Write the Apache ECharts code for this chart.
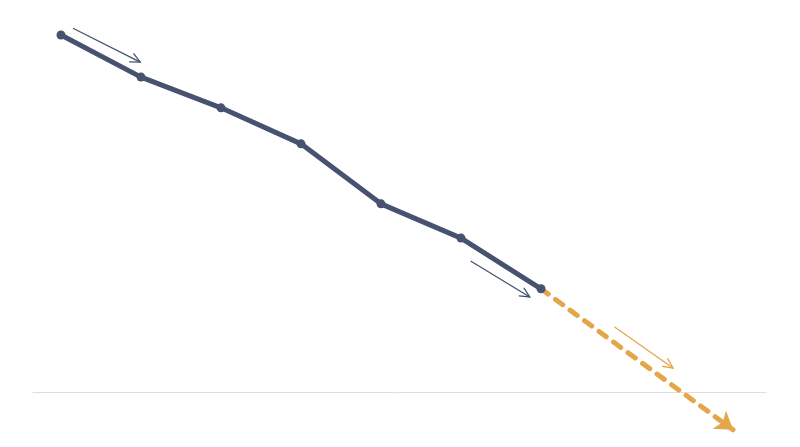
<!DOCTYPE html>
<html><head><meta charset="utf-8">
<script src="https://cdn.jsdelivr.net/npm/echarts@6/dist/echarts.min.js"></script>
<style>html,body{margin:0;padding:0;background:#fff}#c{width:800px;height:447px}</style>
</head><body><div id="c"></div>
<script>
// observed series (x index, value)
const xValues = [0, 1, 2, 3, 4, 5, 6];
const actualValues = [100, 88.2, 79.6, 69.5, 52.7, 43.1, 28.9];
// projected continuation: from last actual point to the arrow tip
const projX = [6, 8.4];
const projValues = [28.9, -10.6];
// annotation arrows [x1, y1, x2, y2, colorKey]
const annoArrows = [
  [0.15, 101.9, 0.99, 92.4, 'navy'],
  [5.12, 36.7, 5.86, 26.6, 'navy'],
  [6.92, 18.2, 7.65, 6.7, 'orange']
];
const NAVY = '#46526F', ORANGE = '#E3A74A';

const chart = echarts.init(document.getElementById('c'));
chart.setOption({
  animation: false,
  grid: {left: 33, right: 34, top: 35, bottom: 12.2},
  xAxis: {type: 'value', min: -0.35, max: 8.8125, axisLine: {show: true, onZero: true, lineStyle: {color: '#dedede', width: 1}},
          axisTick: {show: false}, axisLabel: {show: false}, splitLine: {show: false}},
  yAxis: {type: 'value', min: -12, max: 100, axisLine: {show: false}, axisTick: {show: false},
          axisLabel: {show: false}, splitLine: {show: false}},
  series: [
    {
      type: 'lines', coordinateSystem: 'cartesian2d', z: 2,
      symbol: ['none', 'arrow'], symbolSize: 17,
      lineStyle: {color: ORANGE, width: 5, type: [9, 9], cap: 'round', opacity: 1},
      data: [{coords: [[projX[0], projValues[0]], [projX[1], projValues[1]]]}]
    },
    {
      type: 'line', z: 3,
      data: xValues.map((x, i) => [x, actualValues[i]]),
      symbol: 'circle', symbolSize: 9, showSymbol: true,
      lineStyle: {color: NAVY, width: 5},
      itemStyle: {color: NAVY}
    },
    {
      type: 'custom', z: 4,
      data: annoArrows,
      renderItem: function (params, api) {
        const p1 = api.coord([api.value(0), api.value(1)]);
        const p2 = api.coord([api.value(2), api.value(3)]);
        const col = annoArrows[params.dataIndex][4] === 'orange' ? ORANGE : NAVY;
        const ang = Math.atan2(p2[1] - p1[1], p2[0] - p1[0]);
        const L = 11, a = 0.45;
        const h1 = [p2[0] - L * Math.cos(ang - a), p2[1] - L * Math.sin(ang - a)];
        const h2 = [p2[0] - L * Math.cos(ang + a), p2[1] - L * Math.sin(ang + a)];
        return {type: 'group', children: [
          {type: 'line', shape: {x1: p1[0], y1: p1[1], x2: p2[0], y2: p2[1]}, style: {stroke: col, lineWidth: 1.3}},
          {type: 'polyline', shape: {points: [h1, p2, h2]}, style: {stroke: col, lineWidth: 1.3, fill: null}}
        ]};
      }
    }
  ]
});
</script></body></html>
